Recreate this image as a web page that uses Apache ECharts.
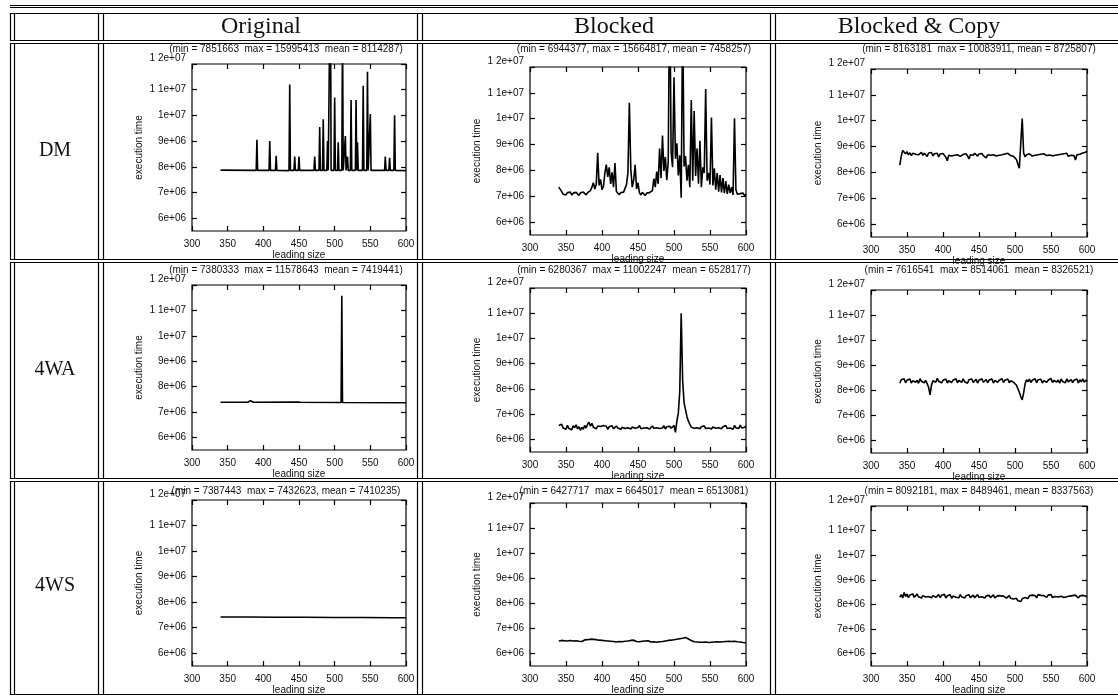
<!DOCTYPE html>
<html>
<head>
<meta charset="utf-8">
<title>Execution time vs leading size</title>
<script src="https://cdn.jsdelivr.net/npm/echarts@6/dist/echarts.min.js"></script>
<style>
  html, body { margin: 0; padding: 0; background: #fff; }
  #chart { width: 1118px; height: 696px; }
</style>
</head>
<body>
<div id="chart"></div>
<script>
// execution times are stored in units of 1e4, x is the leading size
const columnNames = ['Original', 'Blocked', 'Blocked & Copy'];
const rowNames = ['DM', '4WA', '4WS'];
const yTicks = [600, 700, 800, 900, 1000, 1100, 1200];
const yTickLabels = ['6e+06', '7e+06', '8e+06', '9e+06', '1e+07', '1 1e+07', '1 2e+07'];

const statLines = [
  ['(min = 7851663  max = 15995413  mean = 8114287)',
   '(min = 6944377, max = 15664817, mean = 7458257)',
   '(min = 8163181  max = 10083911, mean = 8725807)'],
  ['(min = 7380333  max = 11578643  mean = 7419441)',
   '(min = 6280367  max = 11002247  mean = 6528177)',
   '(min = 7616541  max = 8514061  mean = 8326521)'],
  ['(min = 7387443  max = 7432623, mean = 7410235)',
   '(min = 6427717  max = 6645017  mean = 6513081)',
   '(min = 8092181, max = 8489461, mean = 8337563)']
];

// Original runs: [leading size, time]
const origDM = [
  [340,787],[390,786],[391,905],[392,786],[408,786],[409,900],[410,786],[417,786],[418,843],[419,786],
  [436,785],[437,1120],[438,786],[443,786],[444,840],[445,786],[449,786],[450,840],[451,786],
  [471,786],[472,840],[473,786],[478,786],[479,955],[480,786],[483,786],[484,985],[485,786],
  [489,786],[490,900],[491,786],[493,786],[494,1600],[495,786],[499,786],[500,1070],[501,786],
  [504,786],[505,895],[506,786],[510,786],[511,1350],[512,786],[514,786],[515,920],[516,786],
  [517,786],[518,840],[519,786],[522,786],[523,1060],[524,786],[529,786],[530,1060],[531,786],
  [532,895],[533,786],[539,786],[540,1115],[541,786],[545,786],[546,1170],[547,786],[549,786],
  [550,1005],[551,786],[570,786],[571,840],[572,786],[576,786],[577,835],[578,786],[583,786],
  [584,1000],[585,786],[600,785]
];
const orig4WA = [
  [340,738],[378,738],[382,744],[386,738],[448,739],[450,741],[452,738],[509,737],[510,1158],
  [511,737],[600,736]
];
const orig4WS = [
  [340,742],[380,742],[420,741],[460,741],[500,740],[540,740],[580,739],[600,739]
];

// Blocked and Blocked & Copy runs, sampled every 2 from 340 to 600
const leadingSize = [];
for (let n = 340; n <= 600; n += 2) leadingSize.push(n);

const blockedDM = [
  735, 742, 718, 708, 712, 705, 714, 709, 716, 704,
  712, 707, 715, 710, 703, 713, 708, 716, 711, 705,
  714, 709, 722, 735, 752, 728, 745, 868, 742, 765,
  725, 738, 790, 822, 775, 812, 748, 792, 735, 828,
  718, 712, 706, 714, 709, 716, 722, 745, 790, 1062,
  805, 735, 762, 822, 728, 752, 713, 705, 715, 709,
  703, 712, 706, 714, 710, 722, 768, 735, 795, 748,
  885, 770, 935, 798, 852, 762, 835, 1566, 870, 812,
  1160, 845, 905, 780, 858, 694, 1420, 815, 855, 760,
  822, 735, 1072, 760, 1030, 778, 885, 748, 915, 735,
  812, 790, 1115, 760, 790, 745, 1005, 742, 808, 725,
  790, 718, 782, 715, 770, 712, 758, 709, 745, 712,
  735, 705, 1002, 725, 708, 703, 710, 705, 712, 702,
  708
];
const copyDM = [
  828, 862, 885, 878, 872, 880, 868, 876, 865, 874,
  879, 870, 876, 868, 873, 878, 866, 874, 870, 862,
  875, 869, 877, 864, 872, 867, 874, 860, 871, 866,
  873, 868, 858, 845, 866, 872, 863, 870, 866, 872,
  868, 874, 862, 855, 869, 866, 872, 864, 852, 868,
  872, 866, 874, 869, 863, 871, 867, 873, 865, 870,
  856, 868, 874, 866, 872, 868, 875, 863, 870, 866,
  873, 868, 864, 871, 866, 874, 869, 865, 872, 862,
  862, 850, 832, 816, 822, 1008, 875, 860, 868, 866,
  872, 867, 863, 870, 866, 871, 868, 864, 870, 866,
  872, 868, 865, 871, 867, 873, 864, 869, 866, 872,
  868, 863, 870, 866, 872, 867, 874, 862, 869, 866,
  871, 865, 848, 868, 874, 870, 866, 875, 872, 878,
  882
];
const blocked4WA = [
  655, 648, 660, 645, 652, 640, 656, 643, 650, 638,
  654, 646, 658, 642, 650, 636, 648, 640, 655, 645,
  660, 668, 652, 664, 648, 655, 642, 653, 646, 651,
  644, 655, 648, 652, 640, 650, 646, 654, 642, 649,
  653, 645, 651, 640, 648, 655, 643, 650, 646, 652,
  641, 649, 654, 644, 651, 647, 655, 642, 649, 645,
  652, 646, 650, 641, 648, 653, 644, 650, 646, 652,
  643, 649, 645, 654, 641, 650, 646, 652, 644, 648,
  655, 628, 672, 705, 790, 1100, 835, 745, 718, 690,
  672, 660, 648, 655, 644, 651, 646, 653, 642, 650,
  647, 654, 643, 650, 645, 652, 641, 649, 655, 644,
  651, 646, 653, 642, 650, 647, 655, 643, 649, 645,
  652, 640, 655, 646, 651, 643, 657, 645, 650, 648,
  652
];
const copy4WA = [
  828, 842, 835, 846, 830, 840, 833, 845, 829, 838,
  844, 832, 840, 828, 846, 836, 842, 830, 839, 826,
  812, 782, 820, 838, 845, 832, 848, 836, 842, 830,
  840, 833, 845, 829, 838, 844, 831, 840, 835, 846,
  830, 839, 843, 832, 846, 834, 840, 828, 842, 836,
  845, 831, 838, 844, 829, 840, 835, 846, 832, 838,
  843, 830, 841, 835, 845, 829, 839, 844, 832, 840,
  836, 846, 831, 840, 834, 845, 830, 838, 843, 832,
  830, 820, 806, 792, 775, 762, 790, 825, 842, 834,
  845, 831, 840, 836, 846, 830, 842, 835, 844, 829,
  838, 845, 832, 840, 836, 847, 831, 839, 844, 833,
  841, 828, 845, 835, 840, 830, 846, 834, 839, 843,
  831, 840, 836, 845, 829, 842, 834, 846, 832, 840,
  836
];
const blocked4WS = [
  650, 646, 652, 647, 651, 645, 650, 648, 652, 646,
  650, 647, 651, 645, 649, 652, 648, 651, 654, 650,
  655, 652, 657, 654, 656, 652, 655, 651, 653, 649,
  652, 648, 651, 647, 650, 646, 649, 652, 648, 650,
  646, 650, 648, 652, 647, 651, 649, 653, 650, 648,
  652, 649, 653, 650, 648, 652, 647, 651, 649, 646,
  650, 647, 651, 648, 646, 650, 647, 649, 645, 650,
  647, 651, 648, 646, 650, 648, 652, 649, 653, 651,
  655, 653, 657, 655, 659, 657, 661, 658, 664, 660,
  658, 655, 652, 650, 647, 650, 646, 649, 645, 648,
  645, 649, 646, 648, 644, 647, 645, 649, 646, 650,
  647, 650, 646, 649, 647, 651, 648, 652, 649, 651,
  648, 652, 649, 651, 647, 650, 646, 648, 644, 646,
  643
];
const copy4WS = [
  830, 840, 826, 849, 832, 842, 828, 838, 834, 843,
  829, 837, 842, 831, 839, 826, 836, 841, 830, 838,
  832, 840, 827, 836, 842, 829, 835, 840, 828, 837,
  833, 841, 826, 835, 830, 839, 825, 834, 838, 829,
  836, 827, 840, 831, 837, 826, 835, 832, 839, 828,
  834, 838, 827, 833, 840, 829, 836, 831, 838, 826,
  835, 830, 837, 828, 834, 839, 827, 833, 836, 829,
  835, 828, 834, 838, 826, 832, 836, 825, 831, 822,
  818, 825, 815, 809, 812, 823, 818, 828, 832, 824,
  835, 829, 838, 831, 836, 827, 840, 832, 837, 830,
  836, 841, 829, 838, 833, 840, 828, 836, 832, 839,
  830, 837, 833, 840, 828, 836, 831, 838, 834, 827,
  836, 830, 838, 832, 826, 835, 829, 837, 831, 834,
  830
];

const sampled = arr => leadingSize.map((x, i) => [x, arr[i]]);
const cellData = [
  [origDM, sampled(blockedDM), sampled(copyDM)],
  [orig4WA, sampled(blocked4WA), sampled(copy4WA)],
  [orig4WS, sampled(blocked4WS), sampled(copy4WS)]
];

// layout of the scanned table
const colLeft = [192, 530, 871];
const colRight = [406, 746, 1087];
const gridTop = [[64, 67, 69], [285, 288, 290], [500, 503, 506]];
const gridBottom = [[231, 235, 237], [450, 452, 453], [667, 669, 671]];
const statX = [286, 634, 979];
const statY = [49, 270, 491];
const headX = [261, 614, 919];
const rowLabelY = [151, 370, 586];

const sans = '"Liberation Sans", Arial, sans-serif';
const serif = '"Liberation Serif", "Times New Roman", serif';
const ink = '#111';

const tick = { show: true, inside: true, length: 5, lineStyle: { color: '#000', width: 1.2 } };

const option = {
  animation: false,
  backgroundColor: '#fff',
  grid: [], xAxis: [], yAxis: [], series: [], graphic: []
};

for (let r = 0; r < 3; r++) {
  for (let c = 0; c < 3; c++) {
    const idx = r * 3 + c;
    option.grid.push({
      left: colLeft[c], top: gridTop[r][c],
      width: colRight[c] - colLeft[c], height: gridBottom[r][c] - gridTop[r][c],
      show: true, borderColor: '#000', borderWidth: 1.2, containLabel: false
    });
    option.xAxis.push({
      gridIndex: idx, type: 'value', position: 'bottom', min: 300, max: 600, interval: 50,
      axisLine: { show: false }, axisTick: tick, splitLine: { show: false },
      axisLabel: { color: ink, fontSize: 10, fontFamily: sans, margin: 8, showMinLabel: true, showMaxLabel: true },
      name: 'leading size', nameLocation: 'middle', nameGap: 19,
      nameTextStyle: { color: ink, fontSize: 10, fontFamily: sans }
    });
    option.xAxis.push({
      gridIndex: idx, type: 'value', position: 'top', min: 300, max: 600, interval: 50,
      axisLine: { show: false }, axisTick: tick, splitLine: { show: false },
      axisLabel: { show: false }
    });
    option.yAxis.push({
      gridIndex: idx, type: 'value', position: 'left', min: 550, max: 1200,
      axisLine: { show: false }, splitLine: { show: false },
      axisTick: Object.assign({ customValues: yTicks }, tick),
      axisLabel: {
        customValues: yTicks, color: ink, fontSize: 10, fontFamily: sans, margin: 6,
        formatter: v => {
          const s = yTickLabels[yTicks.indexOf(v)];
          return v === 1200 ? '{top|' + s + '}' : s;
        },
        rich: { top: { color: ink, fontSize: 10, fontFamily: sans, padding: [0, 0, 12, 0] } }
      },
      name: 'execution time', nameLocation: 'middle', nameGap: 48, nameRotate: 90,
      nameTextStyle: { color: ink, fontSize: 10, fontFamily: sans }
    });
    option.yAxis.push({
      gridIndex: idx, type: 'value', position: 'right', min: 550, max: 1200,
      axisLine: { show: false }, splitLine: { show: false },
      axisTick: Object.assign({ customValues: yTicks }, tick),
      axisLabel: { show: false }
    });
    option.series.push({
      type: 'line', xAxisIndex: 2 * idx, yAxisIndex: 2 * idx,
      data: cellData[r][c], showSymbol: false, symbol: 'none', clip: true,
      lineStyle: { color: '#000', width: 1.6 }, silent: true
    });
    option.graphic.push({
      type: 'text', x: statX[c], y: statY[r], silent: true,
      style: { text: statLines[r][c], fill: ink, font: '10px ' + sans, align: 'center', verticalAlign: 'middle' }
    });
  }
}

// table rules
const vx = [10, 14, 98, 103, 417, 422, 770, 775];
const bands = [[13, 40], [43, 259], [262, 478], [481, 694]];
const rule = (x1, y1, x2, y2) => ({
  type: 'line', silent: true,
  shape: { x1, y1, x2, y2 }, style: { stroke: '#000', lineWidth: 1.2 }
});
option.graphic.push(rule(10, 5.5, 1118, 5.5), rule(10, 7.5, 1118, 7.5));
bands.forEach(([t, b]) => {
  option.graphic.push(rule(10, t + 0.5, 1118, t + 0.5), rule(10, b + 0.5, 1118, b + 0.5));
  vx.forEach(x => option.graphic.push(rule(x + 0.5, t, x + 0.5, b + 1)));
});

columnNames.forEach((name, c) => {
  option.graphic.push({
    type: 'text', x: headX[c], y: 27, silent: true,
    style: { text: name, fill: ink, font: '24px ' + serif, align: 'center', verticalAlign: 'middle' }
  });
});
rowNames.forEach((name, r) => {
  option.graphic.push({
    type: 'text', x: 55, y: rowLabelY[r], silent: true,
    style: { text: name, fill: ink, font: '20px ' + serif, align: 'center', verticalAlign: 'middle' }
  });
});

const chart = echarts.init(document.getElementById('chart'), null, { renderer: 'canvas' });
chart.setOption(option);
</script>
</body>
</html>
